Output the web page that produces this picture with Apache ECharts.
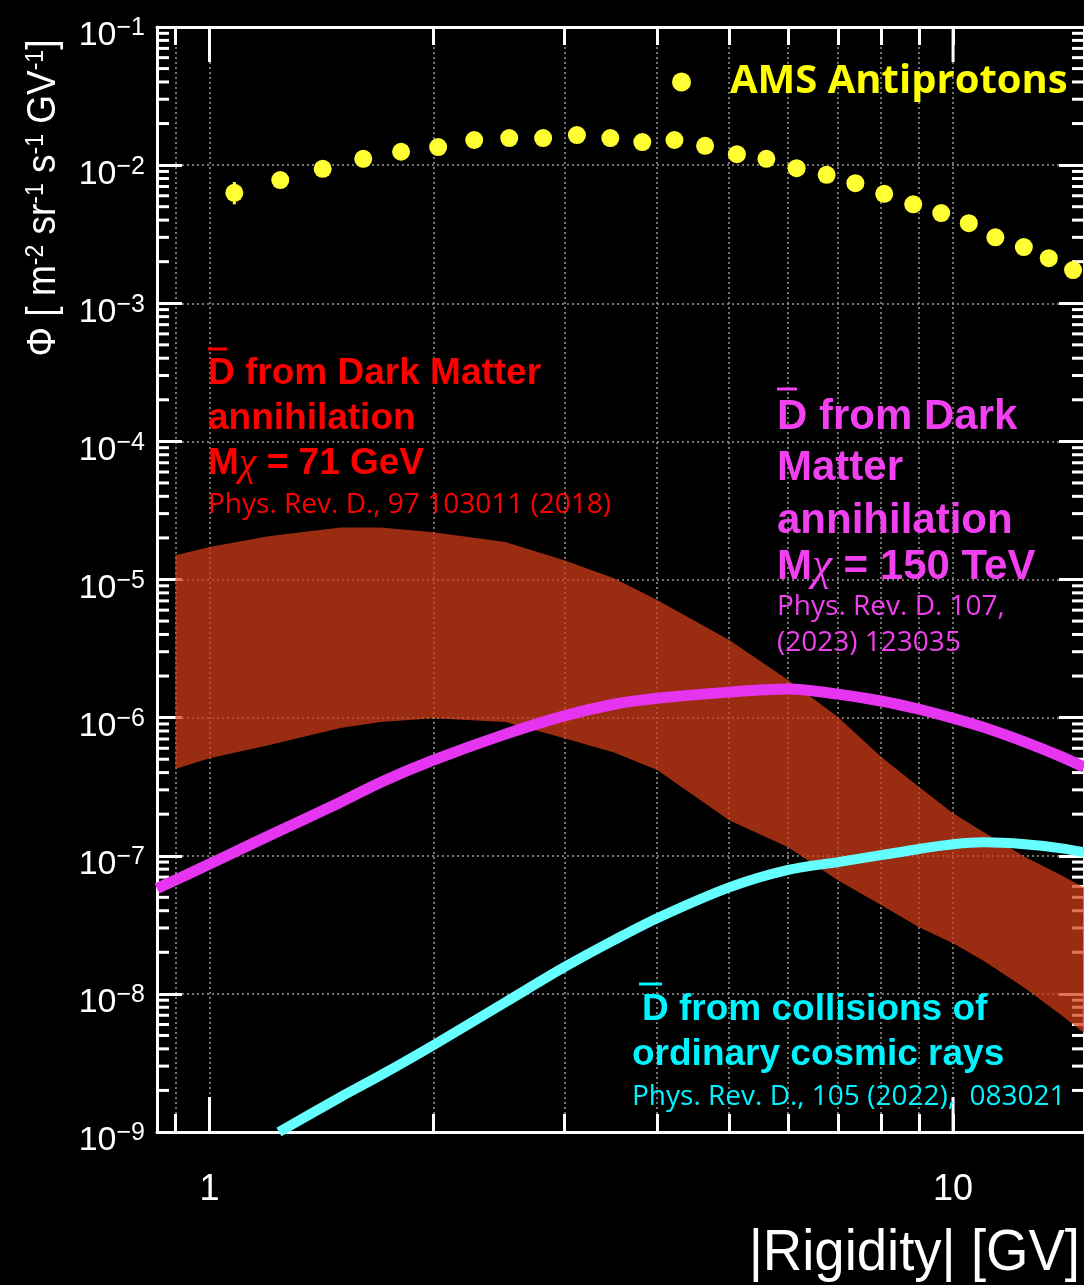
<!DOCTYPE html>
<html>
<head>
<meta charset="utf-8">
<title>Antideuteron and antiproton fluxes</title>
<script src="https://cdn.jsdelivr.net/npm/echarts@6/dist/echarts.min.js"></script>
<style>
  html, body { margin: 0; padding: 0; background: #000; }
  #chart { width: 1084px; height: 1285px; }
</style>
</head>
<body>
<div id="chart"></div>
<script>
// ---------------- data ----------------
// AMS antiproton flux  [m^-2 sr^-1 s^-1 GV^-1]
const amsRigidity = [1.08, 1.245, 1.42, 1.61, 1.81, 2.03, 2.27, 2.53, 2.81, 3.12, 3.46, 3.82, 4.22, 4.64,
  5.12, 5.61, 6.16, 6.76, 7.39, 8.08, 8.84, 9.64, 10.5, 11.4, 12.45, 13.45, 14.5];
const amsFlux = [6.3e-3, 7.8e-3, 9.4e-3, 1.11e-2, 1.25e-2, 1.35e-2, 1.52e-2, 1.57e-2, 1.57e-2, 1.65e-2, 1.57e-2,
  1.47e-2, 1.52e-2, 1.38e-2, 1.20e-2, 1.11e-2, 9.5e-3, 8.5e-3, 7.4e-3, 6.2e-3, 5.2e-3, 4.5e-3, 3.8e-3,
  3.0e-3, 2.55e-3, 2.12e-3, 1.74e-3];
// visible error bar (lowest rigidity bin)
const amsErrRigidity = [1.08];
const amsErrLow = [5.2e-3];
const amsErrHigh = [7.55e-3];

// anti-deuterons from dark matter annihilation, M_chi = 71 GeV (uncertainty band)
const dm71Rigidity = [0.9, 1.0, 1.2, 1.5, 1.7, 2.0, 2.5, 3.0, 3.5, 4, 5, 6, 7, 8, 9, 10, 11, 12.5, 14, 15];
const dm71Upper = [1.50e-5, 1.72e-5, 2.06e-5, 2.38e-5, 2.38e-5, 2.20e-5, 1.87e-5, 1.38e-5, 1.02e-5, 7.1e-6,
  3.64e-6, 1.87e-6, 1.01e-6, 5.2e-7, 3.14e-7, 2.03e-7, 1.48e-7, 9.8e-8, 7.2e-8, 5.9e-8];
const dm71Lower = [4.24e-7, 5.09e-7, 6.32e-7, 8.4e-7, 9.3e-7, 9.9e-7, 9.3e-7, 7.1e-7, 5.6e-7, 4.17e-7,
  1.81e-7, 1.15e-7, 6.65e-8, 4.4e-8, 3.04e-8, 2.33e-8, 1.73e-8, 1.10e-8, 6.98e-9, 5.2e-9];

// anti-deuterons from dark matter annihilation, M_chi = 150 TeV
const dm150Rigidity = [0.85, 1.0, 1.2, 1.5, 1.7, 2.0, 2.5, 3.0, 3.5, 4, 5, 6, 7, 8, 9, 10, 11, 12.5, 14, 15];
const dm150Flux = [5.8e-8, 8.7e-8, 1.39e-7, 2.44e-7, 3.41e-7, 4.92e-7, 7.6e-7, 1.03e-6, 1.25e-6, 1.38e-6,
  1.53e-6, 1.61e-6, 1.48e-6, 1.32e-6, 1.15e-6, 9.9e-7, 8.5e-7, 6.65e-7, 5.2e-7, 4.38e-7];

// anti-deuterons from collisions of ordinary cosmic rays
const crRigidity = [1.24, 1.5, 1.7, 2.0, 2.5, 3.0, 3.5, 4, 5, 6, 7, 8, 9, 10, 11, 12.5, 14, 15];
const crFlux = [1.0e-9, 1.79e-9, 2.58e-9, 4.25e-9, 8.7e-9, 1.56e-8, 2.45e-8, 3.53e-8, 5.9e-8, 7.9e-8,
  9.0e-8, 1.01e-7, 1.12e-7, 1.21e-7, 1.25e-7, 1.21e-7, 1.13e-7, 1.06e-7];

// axes
const xMin = 0.85, xMax = 15;
const yMin = 1e-9, yMax = 1e-1;
const xMinorTickValues = [0.9, 1, 2, 3, 4, 5, 6, 7, 8, 9, 10];
const xMajorTickValues = [1, 10];
const xLabelValues = [1, 10];

// minor ticks of the flux axis: 2..9 x 10^n
const yMinorTickValues = [];
for (let e = -9; e < -1; e++) {
  for (let m = 2; m <= 9; m++) yMinorTickValues.push(m * Math.pow(10, e));
}

const zip = (a, b) => a.map((v, i) => [v, b[i]]);

// ---------------- chart ----------------
const chart = echarts.init(document.getElementById('chart'), null, { renderer: 'canvas' });

const WHITE = '#ffffff';
const gridLine = { show: true, lineStyle: { color: '#9a9a9a', width: 1.5, type: [2, 3] } };

const xAxisBase = {
  type: 'log', logBase: 10, min: xMin, max: xMax,
  axisLine: { show: true, onZero: false, lineStyle: { color: WHITE, width: 3 } },
  axisTick: { show: true, inside: true, length: 18, customValues: xMinorTickValues, lineStyle: { color: WHITE, width: 3 } },
  minorTick: { show: false }, minorSplitLine: { show: false }
};
const yAxisBase = {
  type: 'log', logBase: 10, min: yMin, max: yMax, splitNumber: 8,
  axisLine: { show: true, onZero: false, lineStyle: { color: WHITE, width: 3 } },
  axisTick: { show: true, inside: true, length: 25, lineStyle: { color: WHITE, width: 3 } },
  minorTick: { show: false }, minorSplitLine: { show: false }
};

// tick marks not covered by the axes themselves
const tickData = xMajorTickValues.map(v => [v, yMin, 0])
  .concat(yMinorTickValues.map(v => [xMin, v, 1]));

function label(x, y, text, size, color, extra) {
  return {
    type: 'text', x: x, y: y, silent: true, z: 100,
    style: Object.assign({
      text: text, fill: color, fontSize: size,
      fontFamily: 'Liberation Sans', fontWeight: 'bold',
      align: 'left', verticalAlign: 'middle',
      textAlign: 'left', textVerticalAlign: 'middle'
    }, extra || {})
  };
}
function bar(x1, x2, y, color) {
  return { type: 'line', silent: true, z: 100, shape: { x1: x1, y1: y, x2: x2, y2: y }, style: { stroke: color, lineWidth: 3 } };
}
const chiRich = (size) => ({ c: { fontFamily: 'Liberation Serif', fontStyle: 'italic', fontWeight: 'normal', fontSize: size * 1.08 } });
const cite = { fontFamily: 'Open Sans', fontWeight: 'normal' };

const RED = '#ff0000', MAG = '#f040f0', CYAN = '#00f4ff';

const option = {
  backgroundColor: '#000',
  animation: false,
  grid: { left: 157, right: 0, top: 27, bottom: 153, outerBoundsMode: 'none', containLabel: false },
  legend: {
    show: true, data: ['AMS Antiprotons'], left: 667, top: 57,
    itemWidth: 19, itemHeight: 19, selectedMode: false,
    itemStyle: { opacity: 1 },
    textStyle: { color: '#ffff00', fontSize: 40, fontWeight: 'bold', fontFamily: 'Open Sans', padding: [0, 0, 0, 34] }
  },
  xAxis: [
    Object.assign({}, xAxisBase, {
      position: 'bottom',
      axisLabel: {
        show: true, customValues: xLabelValues, formatter: v => String(Math.round(v)),
        color: WHITE, fontSize: 36, fontFamily: 'Liberation Sans', margin: 40
      },
      splitLine: gridLine
    }),
    Object.assign({}, xAxisBase, { position: 'top', axisLabel: { show: false }, splitLine: { show: false } })
  ],
  yAxis: [
    Object.assign({}, yAxisBase, {
      position: 'left',
      axisLabel: {
        show: true, margin: 12, padding: [18, 0, 0, 0],
        formatter: v => '{b|10}{s|\u2212' + (-Math.round(Math.log10(v))) + '}',
        rich: {
          b: { fontSize: 34, color: WHITE, fontFamily: 'Liberation Sans', lineHeight: 40 },
          s: { fontSize: 25, color: WHITE, fontFamily: 'Liberation Sans', lineHeight: 20, verticalAlign: 'top' }
        }
      },
      splitLine: gridLine
    }),
    Object.assign({}, yAxisBase, { position: 'right', axisLabel: { show: false }, splitLine: { show: false } })
  ],
  series: [
    {
      // extra tick marks: long ticks at 1 and 10 GV, minor ticks on the flux axis
      name: 'ticks', type: 'custom', z: 1, silent: true, clip: false,
      xAxisIndex: 0, yAxisIndex: 0, encode: { x: 0, y: 1 },
      data: tickData,
      renderItem: function (params, api) {
        const cs = params.coordSys;
        const p = api.coord([api.value(0), api.value(1)]);
        const st = { stroke: WHITE, lineWidth: 3 };
        if (api.value(2) === 0) {
          return { type: 'group', children: [
            { type: 'line', shape: { x1: p[0], y1: cs.y + cs.height, x2: p[0], y2: cs.y + cs.height - 35 }, style: st },
            { type: 'line', shape: { x1: p[0], y1: cs.y, x2: p[0], y2: cs.y + 35 }, style: st }
          ] };
        }
        return { type: 'group', children: [
          { type: 'line', shape: { x1: cs.x, y1: p[1], x2: cs.x + 12, y2: p[1] }, style: st },
          { type: 'line', shape: { x1: cs.x + cs.width, y1: p[1], x2: cs.x + cs.width - 12, y2: p[1] }, style: st }
        ] };
      }
    },
    {
      // M_chi = 71 GeV band between lower and upper predictions
      name: 'DM 71 GeV', type: 'custom', z: 2, silent: true, clip: false,
      xAxisIndex: 0, yAxisIndex: 0, encode: { x: 0, y: 1 },
      data: [[dm71Rigidity[0], dm71Upper[0]]],
      renderItem: function (params, api) {
        const pts = [];
        for (let i = 0; i < dm71Rigidity.length; i++) pts.push(api.coord([dm71Rigidity[i], dm71Upper[i]]));
        for (let i = dm71Rigidity.length - 1; i >= 0; i--) pts.push(api.coord([dm71Rigidity[i], dm71Lower[i]]));
        return { type: 'polygon', shape: { points: pts }, style: { fill: 'rgba(214,61,25,0.72)' } };
      }
    },
    {
      name: 'DM 150 TeV', type: 'line', z: 3, silent: true,
      data: zip(dm150Rigidity, dm150Flux), smooth: 0.3, showSymbol: false, symbol: 'none',
      lineStyle: { color: '#e535f0', width: 11, opacity: 1 }
    },
    {
      name: 'Cosmic-ray collisions', type: 'line', z: 3, silent: true, clip: false,
      data: zip(crRigidity, crFlux), smooth: 0.3, showSymbol: false, symbol: 'none',
      lineStyle: { color: '#66ffff', width: 10, opacity: 1 }
    },
    {
      name: 'AMS error', type: 'custom', z: 4, silent: true,
      xAxisIndex: 0, yAxisIndex: 0, encode: { x: 0, y: [1, 2] },
      data: amsErrRigidity.map((v, i) => [v, amsErrLow[i], amsErrHigh[i]]),
      renderItem: function (params, api) {
        const a = api.coord([api.value(0), api.value(1)]);
        const b = api.coord([api.value(0), api.value(2)]);
        return { type: 'line', shape: { x1: a[0], y1: a[1], x2: b[0], y2: b[1] }, style: { stroke: '#ffff33', lineWidth: 3 } };
      }
    },
    {
      name: 'AMS Antiprotons', type: 'scatter', z: 5, silent: true,
      data: zip(amsRigidity, amsFlux), symbol: 'circle', symbolSize: 18,
      itemStyle: { color: '#ffff33', opacity: 1 }
    }
  ],
  graphic: [
    // axis titles
    {
      type: 'text', x: 44, y: 198, rotation: Math.PI / 2, scaleY: 1.1, silent: true,
      style: {
        text: '\u03a6 [ m{s|-2} sr{s|-1} s{s|-1} GV{s|-1}]',
        fill: WHITE, fontSize: 37, fontFamily: 'Liberation Sans',
        align: 'center', verticalAlign: 'middle', textAlign: 'center', textVerticalAlign: 'middle',
        rich: { s: { fontSize: 23, verticalAlign: 'top', lineHeight: 22 } }
      }
    },
    {
      type: 'text', x: 1080, y: 1254, scaleX: 0.94, silent: true,
      style: {
        text: '|Rigidity| [GV]', fill: WHITE, fontSize: 58, fontFamily: 'Liberation Sans',
        align: 'right', verticalAlign: 'middle', textAlign: 'right', textVerticalAlign: 'middle'
      }
    },

    // M_chi = 71 GeV annotation
    bar(208, 227, 349, RED),
    label(208, 374, 'D from Dark Matter', 37, RED),
    label(208, 419, 'annihilation', 37, RED),
    label(208, 464, 'M{c|\u03c7} = 71 GeV', 37, RED, { rich: chiRich(37) }),
    label(208, 505, 'Phys. Rev. D., 97 103011 (2018)', 28, RED, cite),

    // M_chi = 150 TeV annotation
    bar(777, 797, 389, MAG),
    label(777, 417, 'D from Dark', 42, MAG),
    label(777, 468, 'Matter', 42, MAG),
    label(777, 521, 'annihilation', 42, MAG),
    label(777, 567, 'M{c|\u03c7} = 150 TeV', 42, MAG, { rich: chiRich(42) }),
    label(777, 607, 'Phys. Rev. D. 107,', 28, MAG, cite),
    label(777, 643, '(2023) 123035', 28, MAG, cite),

    // cosmic-ray collisions annotation
    bar(639, 662, 984, CYAN),
    label(642, 1010, 'D from collisions of', 37, CYAN),
    label(632, 1055, 'ordinary cosmic rays', 37, CYAN),
    label(632, 1097, 'Phys. Rev. D., 105 (2022),  083021', 28, CYAN, cite)
  ]
};

chart.setOption(option);
</script>
</body>
</html>
